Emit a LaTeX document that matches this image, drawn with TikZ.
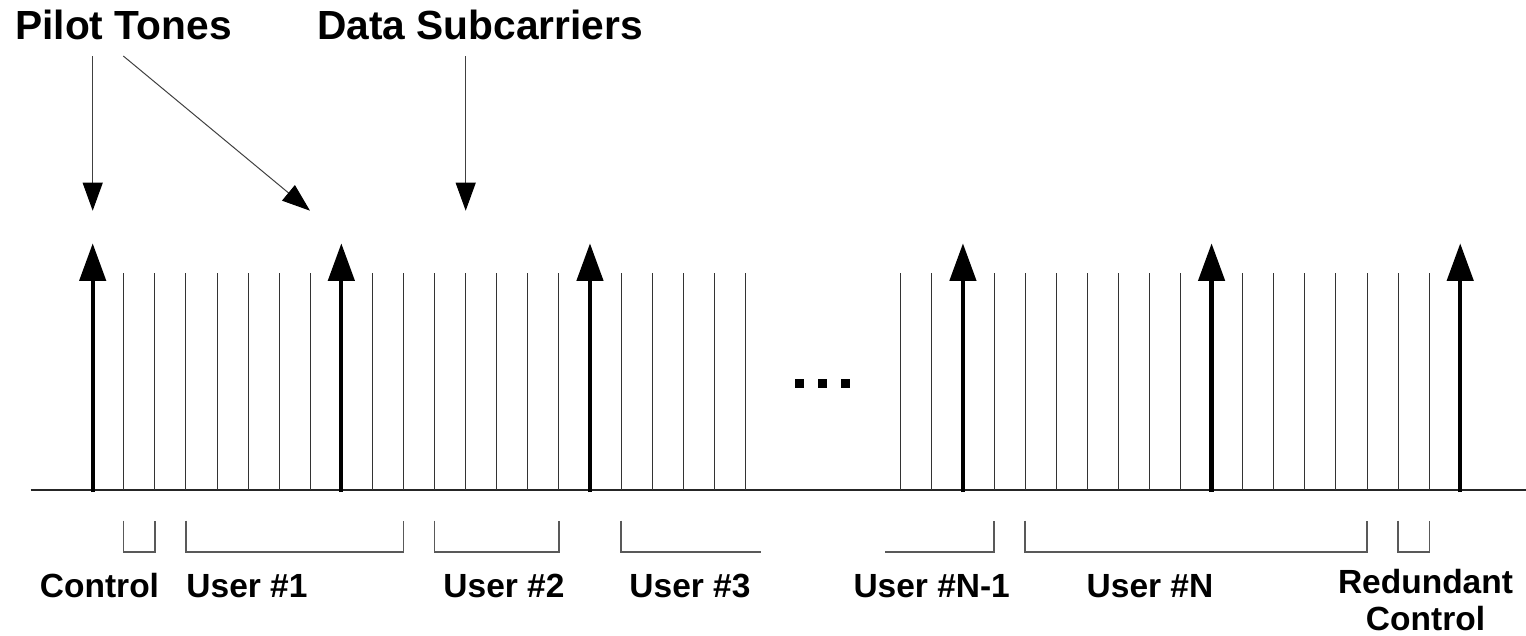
\documentclass[tikz,border=0pt]{standalone}
\usepackage{fontspec}
\setmainfont{Liberation Sans}
\usetikzlibrary{arrows.meta,calc}
\begin{document}
\begin{tikzpicture}[x=1pt,y=-1pt,
  sub/.style={draw=black!80,line width=0.9pt},
  pilot/.style={draw=black,line width=4.3pt,shorten <=-2pt,-{Triangle[length=37.5pt,width=26pt]}},
  lblarrow/.style={draw=black!75,line width=1pt,-{Triangle[length=28pt,width=20pt,color=black]}},
  brk/.style={draw=black!65,line width=1.3pt},
  axisline/.style={draw=black!85,line width=1.5pt},
  toplbl/.style={font=\bfseries\fontsize{40.7}{46}\selectfont,inner sep=0pt,anchor=base},
  botlbl/.style={font=\bfseries\fontsize{33.5}{37}\selectfont,inner sep=0pt,anchor=base,align=center},
  dot/.style={fill=black},
]
\useasboundingbox (0,0) rectangle (1526,635);
\def\dx{31.08}
\def\xo{92.7}
% subcarrier grid
\foreach \k in {0,...,44}{
  \coordinate (b\k) at ({\xo+\k*\dx},490);
  \coordinate (t\k) at ({\xo+\k*\dx},273.3);
  \coordinate (p\k) at ({\xo+\k*\dx},243.3);
}
% axis
\coordinate (axL) at (30.7,490);
\coordinate (axR) at (1526,490);
\draw[axisline] (axL) -- (axR);
% data subcarriers
\foreach \k in {1,2,3,4,5,6,7,9,10,11,12,13,14,15,17,18,19,20,21,26,27,29,30,31,32,33,34,35,37,38,39,40,41,42,43}
  \draw[sub] (b\k) -- (t\k);
% pilot tones
\foreach \k in {0,8,16,28,36,44}
  \draw[pilot] (b\k) -- (p\k);
% ellipsis
\foreach \cx in {799.5,822.7,845.9}
  \fill[dot] (\cx-4.5,379.3) rectangle ++(9,8.4);
% top labels and arrows
\node[toplbl] (pt) at (123.5,39.5) {Pilot Tones};
\node[toplbl] (ds) at (480,39.5) {Data Subcarriers};
\coordinate (a1s) at (92.7,56);
\coordinate (a1e) at (92.7,210.7);
\coordinate (a2s) at (123.3,56);
\coordinate (a2e) at (310,210.7);
\coordinate (a3s) at (465.7,56);
\coordinate (a3e) at (465.7,210.7);
\draw[lblarrow] (a1s) -- (a1e);
\draw[lblarrow] (a2s) -- (a2e);
\draw[lblarrow] (a3s) -- (a3e);
% brackets
\newcommand\mybrk[2]{\draw[brk] ($(b#1)+(0,30.7)$) -- ($(b#1)+(0,62)$) -- ($(b#2)+(0,62)$) -- ($(b#2)+(0,30.7)$);}
\mybrk{1}{2}
\mybrk{3}{10}
\mybrk{11}{15}
\mybrk{30}{41}
\mybrk{42}{43}
\coordinate (u3end) at (760.7,552);
\draw[brk] ($(b17)+(0,30.7)$) -- ($(b17)+(0,62)$) -- (u3end);
\coordinate (un1start) at (885.2,552);
\draw[brk] (un1start) -- ($(b29)+(0,62)$) -- ($(b29)+(0,30.7)$);
% bottom labels
\node[botlbl] (lc) at (99.5,597.3) {Control};
\node[botlbl] (l1) at (247,597.3) {User \#1};
\node[botlbl] (l2) at (504,597.3) {User \#2};
\node[botlbl] (l3) at (690,597.3) {User \#3};
\node[botlbl] (ln1) at (931.7,597.3) {User \#N-1};
\node[botlbl] (ln) at (1150,597.3) {User \#N};
\node[botlbl,anchor=south] (lrc) at (1425.5,631) {Redundant\\Control};
\end{tikzpicture}
\end{document}
